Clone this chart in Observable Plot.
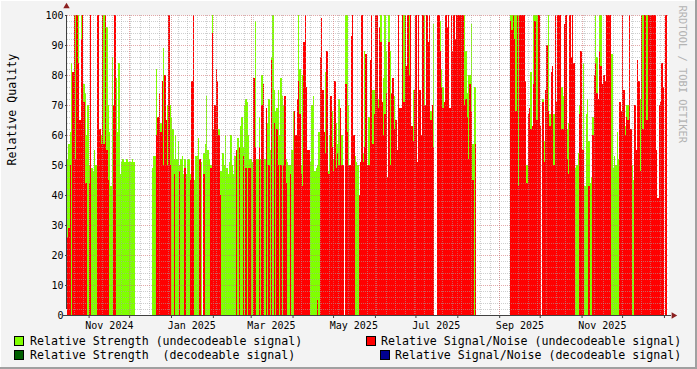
<!DOCTYPE html>
<html><head><meta charset="utf-8">
<script src="https://cdn.jsdelivr.net/npm/d3@7"></script>
<script src="https://cdn.jsdelivr.net/npm/@observablehq/plot@0.6"></script>
<style>
html,body{margin:0;padding:0;background:#f3f3f3;}
#chart{position:relative;width:697px;height:369px;background:#f3f3f3;overflow:hidden;font-family:"DejaVu Sans Mono",monospace;}
#chart svg{position:absolute;left:0;top:0;background:transparent;}
.border{position:absolute;left:0;top:0;width:697px;height:369px;box-shadow:inset -2px -2px 0 #a0a0a0, inset 1px 1px 0 #ffffff;pointer-events:none;}
.leg{position:absolute;font-size:11.6px;white-space:pre;color:#000;line-height:12px;}
.sw{position:absolute;width:8px;height:8px;border:1px solid #000;}
</style></head>
<body><div id="chart"></div>
<script>
// ---- data: one value per day starting 2024-10-16 (null = no data) ----
const startDay = "2024-10-16";
const endDay = "2026-01-04";
const strength = [
52,57,61,84,77,100,100,87,100,61,
100,57,77,74,60,70,50,48,49,48,
55,50,50,50,55,60,33,100,45,96,
70,61,43,86,46,50,79,61,84,47,
51,52,51,51,52,51,51,51,52,51,
null,null,null,null,null,null,null,null,null,null,
null,null,null,49,53,53,82,60,50,64,
60,89,50,50,70,50,70,66,62,52,
60,52,58,50,52,53,47,52,47,52,
52,47,50,55,45,53,53,59,51,51,
null,54,57,73,55,52,50,100,47,62,
76,64,62,48,48,54,50,60,49,47,
51,60,50,47,53,49,59,54,63,66,
56,70,72,71,60,52,52,51,52,98,
52,52,66,52,80,73,52,68,64,72,
55,86,100,75,68,69,75,60,79,73,
70,72,52,51,50,50,55,68,50,50,
55,100,82,50,80,60,45,68,50,50,
51,70,73,48,49,50,61,50,52,55,
48,81,52,48,60,58,68,52,64,64,
57,72,60,60,null,null,100,100,70,50,
50,null,null,53,51,50,40,40,50,54,
88,50,50,66,44,100,75,75,null,null,
72,null,100,41,79,100,88,null,100,88,
null,null,73,60,null,73,null,null,87,100,
null,82,null,100,null,53,75,null,100,30,
80,null,44,100,100,null,null,null,77,68,
48,97,null,null,null,null,98,82,76,null,
null,null,null,null,null,null,null,null,null,null,
null,null,null,null,100,88,74,80,80,97,
57,76,76,null,null,null,null,null,null,null,
null,null,null,null,null,null,null,null,null,null,
null,null,null,null,null,null,null,null,100,100,
76,100,100,86,100,100,96,null,null,53,
50,50,63,81,49,100,100,100,100,100,
null,null,72,58,59,59,100,67,75,67,
67,100,null,null,null,100,76,73,62,62,
62,64,79,null,100,71,49,50,54,70,
null,52,84,43,67,72,58,44,46,66,
66,100,86,55,100,100,null,51,61,null,
null,null,100,87,49,53,50,61,52,70,
null,81,null,63,70,70,null,51,50,45,
56,48,80,72,72,100,100,null,90,100,
81,96,79,null,null,null,null,null,null,null,
null,null,null,null,null
];
const snr = [
26,29,50,null,81,100,52,100,84,65,
92,100,71,44,44,null,44,100,null,null,
null,null,100,100,62,57,100,57,100,55,
45,null,null,null,70,100,null,null,null,null,
null,null,null,null,null,null,null,null,null,null,
null,null,null,null,null,null,null,null,null,null,
null,null,null,null,null,null,60,66,74,61,
78,50,80,65,50,100,50,null,null,47,
null,null,null,48,null,null,null,49,null,null,
null,45,78,100,null,null,null,null,52,null,
null,47,null,null,null,null,49,94,62,70,
82,78,60,40,null,null,null,null,null,null,
null,null,null,null,null,55,null,56,null,null,
53,null,49,null,49,49,null,null,79,56,
null,null,56,null,70,77,null,69,null,50,
null,85,null,64,null,62,50,null,50,null,
50,73,44,null,null,47,null,null,68,60,
72,78,67,47,43,91,100,76,55,55,
null,null,null,null,null,5,null,86,99,75,
61,54,88,47,47,73,56,48,78,49,
54,50,69,50,50,null,77,61,50,50,
93,100,60,null,null,null,40,51,100,51,
56,87,50,50,85,100,57,67,100,100,
69,96,91,71,60,67,74,46,91,50,
74,79,62,65,55,100,69,69,100,71,
100,83,100,80,100,63,58,75,100,51,
100,75,60,100,70,70,100,91,100,65,
70,56,null,null,100,100,88,76,69,71,
100,96,100,69,100,88,100,92,100,100,
100,100,100,100,70,72,66,52,77,68,
45,null,57,null,null,null,null,null,null,null,
null,null,null,null,null,null,null,null,null,null,
null,null,null,null,null,null,null,null,98,95,
100,92,68,100,43,100,100,100,100,78,
44,67,69,62,63,77,98,65,65,100,
63,null,71,51,75,90,68,63,81,83,
50,100,71,100,100,100,62,62,97,100,
52,47,100,86,100,84,null,null,null,67,
88,55,55,null,null,null,43,null,null,60,
80,84,74,72,88,83,77,80,78,100,
100,100,100,null,null,null,null,null,null,71,
68,100,75,60,66,65,100,62,null,null,
70,55,85,78,48,100,62,100,100,65,
100,100,100,100,100,100,55,39,70,71,
84,76,null,100,null
];
const xLabels = ["Nov 2024","Jan 2025","Mar 2025","May 2025","Jul 2025","Sep 2025","Nov 2025"];
const xLabelDates = ["2024-11-16","2025-01-16","2025-03-16","2025-05-16","2025-07-16","2025-09-16","2025-11-16"];
const yTicks = [0,10,20,30,40,50,60,70,80,90,100];
const legendItems = [
  {label: "Relative Strength (undecodeable signal)", color: "#80ff00"},
  {label: "Relative Signal/Noise (undecodeable signal)", color: "#ff0000"},
  {label: "Relative Strength  (decodeable signal)", color: "#005f00"},
  {label: "Relative Signal/Noise (decodeable signal)", color: "#000090"}
];
const yTitle = "Relative Quality";
const watermark = "RRDTOOL / TOBI OETIKER";

// ---- build ----
const DAY = 864e5;
const t0 = new Date(startDay + "T00:00:00Z");
const tEnd = new Date(endDay + "T00:00:00Z");
const rows = strength.map((g, i) => ({
  a: new Date(+t0 + i * DAY), b: new Date(+t0 + (i + 1) * DAY), g, r: snr[i]
}));
const labelDates = xLabelDates.map(s => new Date(s + "T00:00:00Z"));
const labelMap = new Map(labelDates.map((d, i) => [+d, xLabels[i]]));
const monthStarts = d3.utcMonth.range(d3.utcMonth.ceil(t0), tEnd);
const weeks = d3.utcMonday.range(t0, tEnd);
const minorY = d3.range(2, 100, 2).filter(v => v % 10 !== 0);
const majorY = yTicks.filter(v => v > 0);
const mono = "DejaVu Sans Mono";

const plot = Plot.plot({
  width: 697, height: 369,
  marginLeft: 67, marginRight: 29, marginTop: 15, marginBottom: 54,
  style: {background: "transparent", fontFamily: mono, fontSize: "10px", color: "#000", overflow: "visible"},
  x: {type: "utc", domain: [t0, tEnd]},
  y: {domain: [0, 100]},
  marks: [
    Plot.frame({fill: "white", stroke: null}),
    Plot.rectY(rows, {x1: "a", x2: "b", y: "g", fill: "#80ff00", shapeRendering: "crispEdges"}),
    Plot.rectY(rows, {x1: "a", x2: "b", y: "r", fill: "#ff0000", shapeRendering: "crispEdges"}),
    Plot.ruleY(minorY, {stroke: "#a8a8a8", strokeOpacity: 0.55, strokeDasharray: "1,1", shapeRendering: "crispEdges"}),
    Plot.ruleX(weeks, {stroke: "#a8a8a8", strokeOpacity: 0.55, strokeDasharray: "1,1", shapeRendering: "crispEdges"}),
    Plot.ruleY(majorY, {stroke: "#d07070", strokeOpacity: 0.6, strokeDasharray: "1,1", shapeRendering: "crispEdges"}),
    Plot.ruleX(monthStarts, {stroke: "#d07070", strokeOpacity: 0.6, strokeDasharray: "1,1", shapeRendering: "crispEdges"}),
    Plot.axisY({ticks: yTicks, tickSize: 2, tickPadding: 2, fontSize: 10, label: null, stroke: "#404040"}),
    Plot.axisX({ticks: monthStarts, tickSize: 3, tickFormat: () => "", label: null, stroke: "#404040"}),
    Plot.axisX({ticks: labelDates, tickSize: 0, tickPadding: 6, tickFormat: d => labelMap.get(+d), fontSize: 10, label: null}),
    Plot.ruleX([t0], {y1: 0, y2: 100, stroke: "#404040", insetTop: -6, dx: -1, shapeRendering: "crispEdges"}),
    Plot.ruleY([0], {stroke: "#404040", insetLeft: -4, insetRight: -3, shapeRendering: "crispEdges"}),
    Plot.dot([{x: t0, y: 100}], {x: "x", y: "y", symbol: "triangle", r: 2.4, fill: "#8b2020", stroke: null, dx: -1, dy: -9}),
    Plot.dot([{x: tEnd, y: 0}], {x: "x", y: "y", symbol: "triangle", r: 2.4, fill: "#8b2020", stroke: null, rotate: 90, dx: 5}),
    Plot.text([yTitle], {frameAnchor: "left", dx: -55, rotate: -90, fontSize: 11.6, fill: "#000"}),
    Plot.text([watermark], {frameAnchor: "top-right", dx: 18, dy: -10, rotate: 90, textAnchor: "start", fontSize: 10.4, fill: "#b4b4b4"})
  ]
});

const chart = document.getElementById("chart");
chart.appendChild(plot);

// legend
const pos = [
  {bx: 14, by: 336, tx: 30, ty: 335},
  {bx: 366, by: 336, tx: 381, ty: 335},
  {bx: 14, by: 350, tx: 30, ty: 349},
  {bx: 380, by: 350, tx: 395, ty: 349}
];
legendItems.forEach((it, i) => {
  const p = pos[i];
  const sw = document.createElement("div");
  sw.className = "sw";
  sw.style.left = p.bx + "px"; sw.style.top = p.by + "px"; sw.style.background = it.color;
  chart.appendChild(sw);
  const t = document.createElement("div");
  t.className = "leg";
  t.style.left = p.tx + "px"; t.style.top = p.ty + "px";
  t.textContent = it.label;
  chart.appendChild(t);
});
const border = document.createElement("div");
border.className = "border";
chart.appendChild(border);
</script></body></html>
